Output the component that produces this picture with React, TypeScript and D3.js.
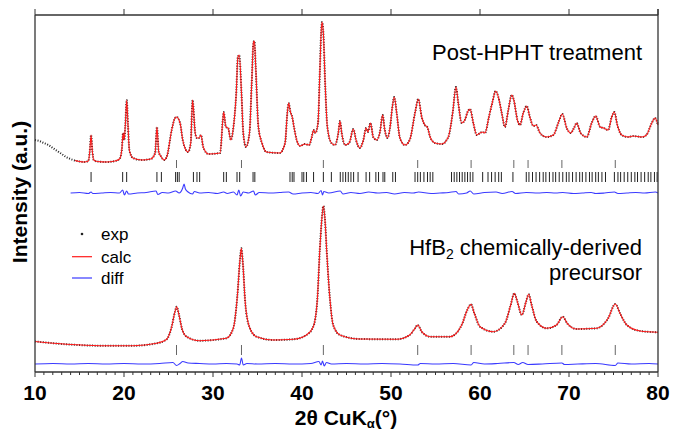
import React from 'react';
import {scaleLinear, line, curveMonotoneX, range} from 'd3';

// 2theta (deg), intensity (a.u.)
const postHpht: [number, number][] = [
  [10.0, 232], [10.5, 231], [11.0, 229], [11.5, 227], [12.0, 224], [12.5, 221], [13.0, 218], [13.5, 215],
  [14.0, 213], [14.5, 211.5], [15.0, 210.5], [15.5, 210], [16.0, 211], [16.15, 220], [16.3, 237], [16.45, 220],
  [16.6, 212], [17.0, 210.5], [18.0, 210], [19.0, 211], [19.5, 213], [19.75, 222], [19.9, 239], [20.02, 232],
  [20.15, 247], [20.3, 272], [20.45, 247], [20.6, 222], [21.0, 214], [22.0, 212], [23.0, 213], [23.5, 219],
  [23.7, 245], [23.9, 220], [24.2, 215], [24.5, 212], [24.8, 215], [25.36, 242], [25.73, 254], [25.9, 255],
  [26.3, 249], [26.6, 232], [26.85, 224], [27.2, 220], [27.5, 229], [27.7, 272], [28.0, 239], [28.2, 234],
  [28.4, 234], [28.65, 237], [28.9, 225], [29.5, 218], [30.8, 219], [31.1, 252], [31.2, 260], [31.45, 245],
  [31.7, 244], [32.0, 232], [32.3, 245], [32.6, 277], [32.8, 315], [32.95, 317], [33.2, 279], [33.4, 239],
  [33.7, 225], [34.1, 239], [34.35, 289], [34.55, 330], [34.65, 331], [34.8, 305], [35.1, 245], [35.5, 229],
  [36.0, 220], [37.5, 219], [38.1, 229], [38.35, 259], [38.5, 269], [38.7, 260], [38.9, 255], [39.1, 245],
  [39.4, 232], [39.8, 226], [40.3, 228], [40.8, 227], [41.1, 235], [41.3, 242], [41.5, 239], [41.8, 249],
  [42.0, 299], [42.15, 339], [42.25, 350], [42.4, 339], [42.6, 289], [42.85, 245], [43.3, 229], [43.7, 227],
  [44.08, 239], [44.27, 251], [44.46, 239], [44.83, 227], [45.3, 229], [45.77, 243], [46.07, 232], [46.5, 224],
  [46.9, 232], [47.2, 244], [47.4, 240], [47.7, 249], [48.0, 235], [48.4, 232], [48.76, 240], [49.06, 257],
  [49.3, 242], [49.6, 234], [49.9, 245], [50.15, 265], [50.37, 275], [50.64, 259], [51.0, 234], [51.57, 227],
  [52.1, 232], [52.7, 259], [53.07, 273], [53.45, 255], [53.8, 247], [54.08, 245], [54.4, 235], [54.94, 229],
  [55.7, 228], [56.44, 235], [56.93, 259], [57.3, 285], [57.56, 269], [57.94, 249], [58.3, 252], [58.6, 260],
  [58.88, 263], [59.25, 249], [59.63, 237], [60.0, 239], [60.26, 240], [60.56, 239], [61.0, 255], [61.4, 270],
  [61.76, 281], [62.06, 275], [62.44, 259], [62.8, 245], [63.18, 262], [63.56, 277], [63.8, 272], [64.2, 252],
  [64.5, 247], [64.86, 259], [65.25, 266], [65.6, 255], [65.99, 246], [66.3, 247], [66.74, 239], [67.49, 235],
  [68.24, 237], [68.8, 249], [69.25, 258], [69.74, 244], [70.19, 239], [70.56, 244], [70.86, 249], [71.3, 239],
  [72.0, 235], [72.55, 249], [73.0, 256], [73.5, 245], [73.9, 244], [74.4, 242], [74.8, 255], [75.09, 260],
  [75.43, 247], [75.92, 237], [76.66, 235], [77.2, 236], [78.2, 235], [78.7, 237], [79.3, 249], [79.66, 254],
  [80.0, 247],
];

const precursor: [number, number][] = [
  [10.0, 30.5], [13.56, 27.7], [17.3, 26.3], [21.05, 26.3], [23.67, 28.7], [24.8, 32.7], [25.36, 45.3],
  [25.73, 60.3], [25.92, 65.3], [26.14, 58.7], [26.5, 43.7], [27.04, 35.3], [28.5, 31.3], [31.5, 33.7],
  [32.28, 43.7], [32.73, 75.3], [33.03, 112], [33.18, 123.7], [33.33, 112], [33.63, 68.7], [34.08, 45.3],
  [34.9, 35.3], [36.8, 32], [39.02, 32.7], [40.5, 37], [41.27, 45.3], [41.72, 72], [42.0, 122], [42.2, 150],
  [42.4, 166], [42.6, 150], [42.77, 122], [43.15, 72], [43.5, 47], [44.27, 37], [46.5, 33], [50.64, 32.7],
  [52.1, 37], [52.7, 43.7], [53.0, 47], [53.45, 40.3], [54.4, 35.3], [56.63, 35.3], [57.94, 47], [58.57, 62],
  [58.99, 67.7], [59.36, 58.7], [60.0, 45.3], [61.5, 40.3], [62.8, 48.7], [63.45, 67], [63.85, 78.7],
  [64.2, 70.3], [64.7, 57], [65.17, 70.3], [65.47, 77.7], [65.8, 67], [66.37, 50.3], [67.5, 43.7], [68.6, 47],
  [69.29, 55.3], [69.8, 48.7], [70.86, 43], [73.1, 43.7], [74.4, 53.7], [75.2, 68], [75.73, 58.7], [76.5, 47],
  [78.0, 41], [80.0, 39.7],
];

// residuals (exp - calc)
const postHphtDiff: [number, number][] = [
  [14.0, 0], [15, 0.5], [16, -0.5], [16.3, 1], [16.5, -0.5], [17.5, 0], [18.5, 0.5], [19.5, 0], [19.85, 3],
  [20.05, -2], [20.3, 2], [20.5, -1], [21.5, 0], [22.5, 0.5], [23.6, 2], [23.8, -1.5], [24.3, 0.5], [25.0, 0],
  [25.8, 2], [26.2, 0], [26.6, 5], [26.75, 9], [26.9, 4], [27.2, 1], [27.7, -1], [27.9, 1.5], [28.5, 0],
  [29.5, 0.5], [30.5, -0.5], [31.2, 1], [31.6, -0.5], [32.3, 1], [32.7, -2], [32.9, 3], [33.1, -3], [33.4, 1],
  [34.0, 0], [34.55, 2], [34.75, -2], [35.2, 0.5], [36.5, 0], [37.5, 0.5], [38.5, 1], [39.0, -1], [40, 0],
  [41, 0.5], [41.8, -0.5], [42.15, 2.5], [42.3, -2], [42.45, 1.5], [43, 0], [44.3, 2], [44.6, -1], [45.5, 0.5],
  [46.5, -0.5], [47.5, 1], [48.5, 0], [49.5, 0.5], [50.4, -1], [51.5, 0.5], [52.5, 0], [53.1, 1], [54.5, -0.5],
  [55.5, 0], [56.5, 0.5], [57.3, 1.5], [57.6, -1], [58.5, 0], [58.9, 2], [59.3, -1], [60.5, 0.5], [61.8, 1],
  [62.5, -0.5], [63.6, 1.5], [64, -0.5], [65.2, 0.5], [66.5, 0], [67.5, 0.5], [68.5, 0], [69.3, 0.5],
  [70.5, -0.5], [71.5, 0], [72.5, 0.5], [73, -0.5], [74, 0], [75.1, 1], [75.5, -0.5], [76.5, 0], [77.5, 0.5],
  [78.5, 0], [79.7, 1], [80, 0],
];

const precursorDiff: [number, number][] = [
  [10, 0], [12, 0.5], [14, 0], [16, 0.5], [18, 0], [20, 0.5], [22, 0], [24, 0.5], [25.5, 1.5], [25.9, -1.5],
  [26.3, 0.5], [26.6, 2.5], [27.2, 1], [28.5, 0.5], [30, 0], [31.5, 0.5], [32.7, 0], [33.0, -1], [33.2, 6],
  [33.4, -1], [33.8, 0.5], [35, 0], [37, 0.5], [39, 0], [41, 0.5], [41.9, 2.5], [42.15, -1], [42.3, 3],
  [42.5, -2], [42.75, 1.5], [43.3, 0], [45, 0.5], [47, 0], [49, 0.5], [51, 0], [53, -1], [53.3, 0.5], [55, 0],
  [57, 0.5], [59, -1], [59.3, 1.5], [60.5, 0], [62, 0.5], [63.8, 1.5], [64.3, -0.5], [64.8, 1.5], [65.4, -0.5],
  [67, 0], [69.2, 1], [69.5, -0.5], [71, 0], [73, 0.5], [75.2, -1.5], [75.5, 1], [77, 0], [79, 0.5], [80, 0],
];

// Bragg reflection positions
const hfb2Refl = [25.9, 33.2, 42.4, 53.0, 59.0, 63.8, 65.4, 69.2, 75.2];
const secondPhaseRefl = [
  16.3, 19.85, 20.3, 23.7, 24.2, 25.8, 26.0, 26.2, 27.8, 28.2, 28.5, 31.2, 31.5, 32.7, 33.0, 34.5, 34.7,
  38.65, 38.9, 39.1, 40.0, 40.2, 40.5, 41.3, 42.4, 43.3, 44.3, 44.6, 44.9, 45.2, 45.5, 45.8, 46.3, 47.2,
  47.6, 48.3, 48.6, 49.1, 49.3, 50.2, 50.5, 52.7, 53.0, 53.3, 53.7, 54.1, 54.4, 54.7, 56.8, 57.1, 57.4,
  57.7, 58.0, 58.3, 58.6, 58.9, 59.2, 60.3, 60.9, 61.3, 61.7, 62.1, 62.4, 63.7, 65.2, 65.5, 65.9, 66.3,
  66.7, 67.1, 67.4, 67.8, 68.2, 68.5, 68.9, 69.3, 69.7, 70.0, 70.4, 70.8, 71.2, 71.5, 71.9, 72.3, 72.6,
  73.0, 73.3, 73.7, 74.1, 75.1, 75.5, 75.8, 76.2, 76.6, 77.0, 77.4, 77.7, 78.1, 78.5, 78.9, 79.2, 79.6, 79.9,
];

const xTicks = [10, 20, 30, 40, 50, 60, 70, 80];
const calcStart = 14.5;

const W = 673, H = 432;
const m = {left: 35, right: 658, top: 15, bottom: 372};
const font = '"Liberation Sans", Arial, sans-serif';

export default function App() {
  const x = scaleLinear().domain([10, 80]).range([m.left, m.right]);
  const y = scaleLinear().domain([0, 357]).range([m.bottom, m.top]);

  const path = (d: [number, number][], off = 0) =>
    line<[number, number]>().x(p => x(p[0])).y(p => y(p[1] + off)).curve(curveMonotoneX)(d) || '';

  const axisColor = '#333';
  const minor = range(10, 81, 1);

  const ticks = (pos: number[], y0: number, y1: number, color: string, key: string) =>
    pos.map((p, i) => (
      <line key={key + i} x1={x(p)} x2={x(p)} y1={y(y0)} y2={y(y1)} stroke={color} strokeWidth={1} />
    ));

  return (
    <svg width={W} height={H} style={{position: 'absolute', left: 0, top: 0, background: '#fff'}} fontFamily={font}>
      {/* top pattern */}
      <path d={path(postHpht)} fill="none" stroke="#222" strokeWidth={2} strokeDasharray="1 1.6" />
      <path d={path(postHpht.filter(p => p[0] >= calcStart))} fill="none" stroke="#ff1a1a" strokeWidth={1.1} />
      {ticks(hfb2Refl, 204, 212, '#666', 'ta')}
      {ticks(secondPhaseRefl, 190, 200, '#222', 'tb')}
      <path d={path(postHphtDiff, 179)} fill="none" stroke="#3a3aff" strokeWidth={1.1} />

      {/* bottom pattern */}
      <path d={path(precursor)} fill="none" stroke="#222" strokeWidth={2} strokeDasharray="1 1.6" />
      <path d={path(precursor)} fill="none" stroke="#ff1a1a" strokeWidth={1.1} />
      {ticks(hfb2Refl, 17, 27, '#666', 'ba')}
      <path d={path(precursorDiff, 8)} fill="none" stroke="#3a3aff" strokeWidth={1.1} />

      {/* frame */}
      <line x1={m.left} x2={m.left} y1={m.top} y2={m.bottom} stroke={axisColor} strokeWidth={1.3} />
      <line x1={m.right} x2={m.right} y1={m.top - 6} y2={m.bottom} stroke={axisColor} strokeWidth={1.3} />
      <line x1={m.left} x2={m.right} y1={m.top} y2={m.top} stroke={axisColor} strokeWidth={1.3} />
      <line x1={m.left} x2={m.right} y1={m.bottom} y2={m.bottom} stroke={axisColor} strokeWidth={1.3} />
      {minor.map(t => (
        <line key={'mn' + t} x1={x(t)} x2={x(t)} y1={m.bottom} y2={m.bottom + (t % 10 === 0 ? 5 : 3)}
          stroke={axisColor} strokeWidth={1} />
      ))}
      {xTicks.map(t => (
        <g key={'t' + t}>
          <line x1={x(t)} x2={x(t)} y1={m.top} y2={m.top - 6} stroke={axisColor} strokeWidth={1} />
          <text x={x(t)} y={400} textAnchor="middle" fontSize={21} fontWeight="bold">{t}</text>
        </g>
      ))}

      <text x={346} y={425} textAnchor="middle" fontSize={21} fontWeight="bold">
        2θ CuK<tspan fontSize={13} dy={3}>α</tspan><tspan dy={-3}>(°)</tspan>
      </text>
      <text transform="translate(27,192) rotate(-90)" textAnchor="middle" fontSize={21} fontWeight="bold">
        Intensity (a.u.)
      </text>

      <text x={642} y={60} textAnchor="end" fontSize={22}>Post-HPHT treatment</text>
      <text x={642} y={255} textAnchor="end" fontSize={22}>
        HfB<tspan fontSize={14} dy={4}>2</tspan><tspan dy={-4}> chemically-derived</tspan>
      </text>
      <text x={642} y={280} textAnchor="end" fontSize={22}>precursor</text>

      {/* legend */}
      <circle cx={82} cy={234} r={1.3} fill="#222" />
      <text x={101} y={240} fontSize={17}>exp</text>
      <line x1={72} x2={92} y1={256.7} y2={256.7} stroke="#ff1a1a" strokeWidth={1.2} />
      <text x={101} y={262.5} fontSize={17}>calc</text>
      <line x1={72} x2={92} y1={278} y2={278} stroke="#3a3aff" strokeWidth={1.2} />
      <text x={101} y={284} fontSize={17}>diff</text>
    </svg>
  );
}
